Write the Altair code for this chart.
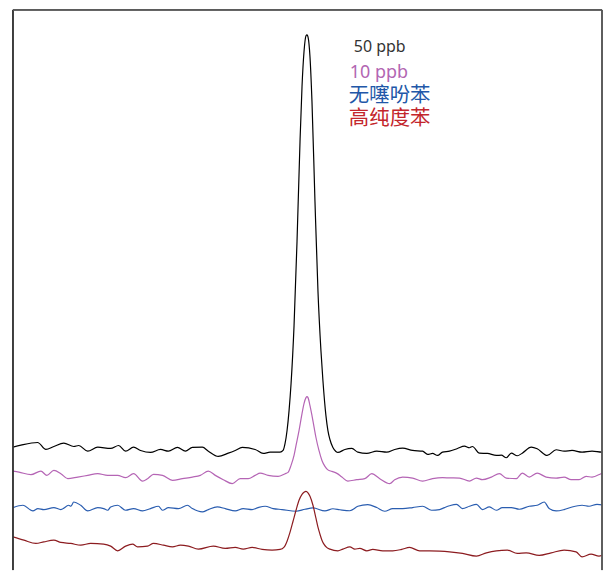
import altair as alt
import pandas as pd

# Readings (x: scan position, y: detector depth, smaller = higher signal)
black_x = [12, 20, 36.7, 45, 53, 63, 73, 78, 87, 97, 110, 118, 125, 133, 140, 150, 160, 168, 177, 185,
           192, 202, 208, 218, 228, 235, 242, 255, 263, 270, 280, 283, 285, 287, 289, 291, 294, 297, 300,
           302, 304, 306, 307, 308, 310, 312, 315, 318, 321, 323, 326, 328, 330, 333, 336, 338, 345, 352,
           358, 367, 377, 387, 395, 403, 413, 423, 428, 433, 438, 443, 450, 458, 465, 470, 473, 480, 488,
           497, 502, 507, 512, 518, 523, 532, 538, 548, 557, 565, 573, 583, 593, 603, 608, 610]
black_y = [446.7, 444.7, 442, 449, 446, 442.7, 446, 445, 450.7, 446.7, 448, 445, 450.7, 446.7, 450, 452,
           449, 450.7, 447, 450.7, 447, 446.7, 450.7, 456, 452.7, 450, 447, 449, 453, 451.7, 451.7, 450,
           443, 430, 410, 383, 325, 240, 140, 85, 50, 34, 33, 35, 55, 100, 200, 290, 350, 380, 415, 430,
           439, 447, 451, 452, 449, 448, 451.7, 453, 450.7, 451.7, 449, 447.7, 450, 450.7, 454, 453, 455,
           451.7, 450.7, 448, 445.7, 447.3, 446, 452.7, 453, 455, 454.7, 457.3, 452.7, 455.3, 452.7,
           446.7, 448.3, 455, 449.3, 450.7, 450, 451.7, 450.7, 451.7, 448.3, 449]

purple_x = [12, 18, 30, 40, 46, 53, 60, 67, 77, 87, 97, 107, 117, 125, 133, 142, 147, 153, 162, 172, 182,
            192, 200, 208, 215, 223, 232, 240, 248, 255, 260, 268, 278, 285, 288, 291, 294, 296, 299, 302,
            304, 306, 307, 308, 310, 312, 314, 316, 319, 322, 325, 328, 332, 337, 342, 348, 357, 365, 372,
            380, 390, 395, 403, 413, 423, 433, 443, 450, 460, 470, 477, 483, 492, 500, 507, 517, 523, 530,
            538, 547, 557, 565, 572, 580, 587, 593, 602, 610]
purple_y = [470.7, 471.7, 474.3, 470.7, 475, 470, 473.3, 478.3, 476.7, 475, 473.3, 475, 475, 477.3, 473.3,
            480.7, 478.3, 474, 475, 480, 478.3, 476.7, 475, 470.7, 475, 479.3, 483.3, 478.3, 478.3, 475,
            472.7, 475, 476, 473.3, 472, 465, 455, 445, 430, 413, 403, 397, 396, 397, 405, 415, 426, 437,
            450, 460, 466, 469.5, 471, 473, 476.7, 480.7, 479.3, 478.3, 473.3, 478.3, 483.3, 479.3, 476.7,
            477.7, 480.7, 478.3, 477.3, 477.5, 477.7, 480.7, 477.7, 479.3, 476.7, 473.3, 477.7, 478.3,
            472.7, 476.7, 472.7, 476.7, 477.7, 476.7, 479.3, 479.3, 476, 476.7, 473.3, 469.3]

blue_x = [12, 22, 32, 37, 43, 53, 60, 68, 70, 73, 80, 87, 97, 103, 107, 110, 117, 125, 133, 142, 150, 158,
          162, 168, 178, 187, 192, 202, 208, 217, 225, 235, 243, 252, 258, 265, 273, 282, 296, 305, 313,
          325, 333, 340, 350, 358, 368, 377, 385, 393, 403, 413, 423, 432, 440, 445, 450, 457, 463, 470,
          477, 483, 490, 497, 503, 512, 520, 530, 538, 545, 550, 557, 565, 573, 583, 590, 598, 605, 610]
blue_y = [507.3, 505, 510.7, 508.3, 509.3, 507.3, 509.3, 505, 506, 501.7, 505, 510.7, 507.3, 508.3, 510,
          506.7, 505, 510, 508.3, 510.7, 508.3, 506, 510, 507.3, 508.3, 505, 508.3, 511.7, 509.3, 506.7,
          508.3, 510.7, 508.3, 509.3, 507.3, 506, 508.3, 509.3, 511, 509, 507.7, 510.7, 508.5, 509.5,
          510.5, 506, 504.3, 507.3, 511, 508.3, 508.3, 507.3, 506, 510, 509.3, 507.3, 505.5, 504, 508.3,
          506, 504, 509.3, 506.7, 510, 507.3, 507.3, 509, 506, 505, 501.7, 508.3, 510.7, 509.3, 506.7,
          505, 506, 504, 505, 507.3]

red_x = [12, 23, 35, 43, 53, 60, 70, 80, 90, 103, 110, 117, 125, 132, 137, 147, 153, 163, 172, 180, 188,
         198, 213, 225, 235, 243, 252, 262, 272, 280, 284, 287, 290, 293, 296, 299, 302, 304, 306, 308,
         310, 313, 316, 318, 320, 322, 324, 327, 330, 338, 343, 350, 355, 360, 367, 373, 383, 393, 402,
         410, 420, 430, 440, 450, 463, 477, 487, 497, 508, 518, 527, 540, 552, 565, 577, 583, 592, 600,
         608, 610]
red_y = [536.7, 540, 543.3, 541.7, 540, 542.3, 543.3, 545, 543.3, 544, 546, 550.7, 546, 544, 546.7, 546,
         543.3, 545, 546.7, 545, 546, 549, 546, 548.3, 547.3, 549, 547.3, 549.3, 550, 549.3, 547, 541,
         532, 521, 510, 500, 494, 492, 491, 492.5, 496, 505, 518, 527, 534, 540, 544, 547.5, 549, 550.7,
         549, 546.7, 549, 548.3, 550.7, 549.3, 550.7, 550.7, 549.3, 547.3, 550.7, 550.7, 551, 551.7,
         553.3, 556, 552.7, 550.7, 550, 553.3, 552.7, 555.3, 552.7, 550, 551.7, 556.7, 554, 556, 554,
         554.5]

series_names = ["50 ppb", "10 ppb", "无噻吩苯", "高纯度苯"]
line_colors = ["#000000", "#b565b5", "#2a5db0", "#8c1c20"]
label_colors = ["#333333", "#b266b2", "#2257a8", "#c3262c"]
label_sizes = [16, 18, 20.5, 20.5]
label_x = [354, 350, 349, 349]
label_y = [50.7, 76.7, 100, 123.5]

frames = []
for name, xs, ys in zip(series_names,
                        [black_x, purple_x, blue_x, red_x],
                        [black_y, purple_y, blue_y, red_y]):
    frames.append(pd.DataFrame({"x": xs, "y": ys, "series": name}))
lines_df = pd.concat(frames, ignore_index=True)

labels_df = pd.DataFrame({
    "label": series_names,
    "x": label_x,
    "y": label_y,
    "color": label_colors,
    "size": label_sizes,
})

W, H = 591, 562
xscale = alt.Scale(domain=[12, 603], zero=False, nice=False)
yscale = alt.Scale(domain=[570, 8], zero=False, nice=False)

lines = alt.Chart(lines_df).mark_line(strokeWidth=1.2, clip=True, interpolate="monotone").encode(
    x=alt.X("x:Q", scale=xscale, axis=None),
    y=alt.Y("y:Q", scale=yscale, axis=None),
    color=alt.Color("series:N", scale=alt.Scale(domain=series_names, range=line_colors), legend=None),
    order="x:Q",
)

texts = alt.Chart(labels_df).mark_text(
    align="left", baseline="alphabetic", font="Noto Sans, Noto Sans CJK SC"
).encode(
    x=alt.X("x:Q", scale=xscale, axis=None),
    y=alt.Y("y:Q", scale=yscale, axis=None),
    text="label:N",
    color=alt.Color("color:N", scale=None),
    size=alt.Size("size:Q", scale=None),
)

left_rule = alt.Chart(labels_df).mark_rule(color="#333333", strokeWidth=1).encode(
    x=alt.value(0), y=alt.value(0), y2=alt.value(H))
right_rule = alt.Chart(labels_df).mark_rule(color="#555555", strokeWidth=1).encode(
    x=alt.value(W), y=alt.value(0), y2=alt.value(H))
top_rule = alt.Chart(labels_df).mark_rule(color="#555555", strokeWidth=1).encode(
    x=alt.value(0), x2=alt.value(W), y=alt.value(0))

chart = alt.layer(lines, texts, left_rule, right_rule, top_rule).properties(
    width=W, height=H,
    padding={"left": 4, "top": 0, "right": 0, "bottom": 0},
    background="white",
).configure_view(stroke=None)

chart.save("out.html", embed_options={"renderer": "svg", "actions": False})
